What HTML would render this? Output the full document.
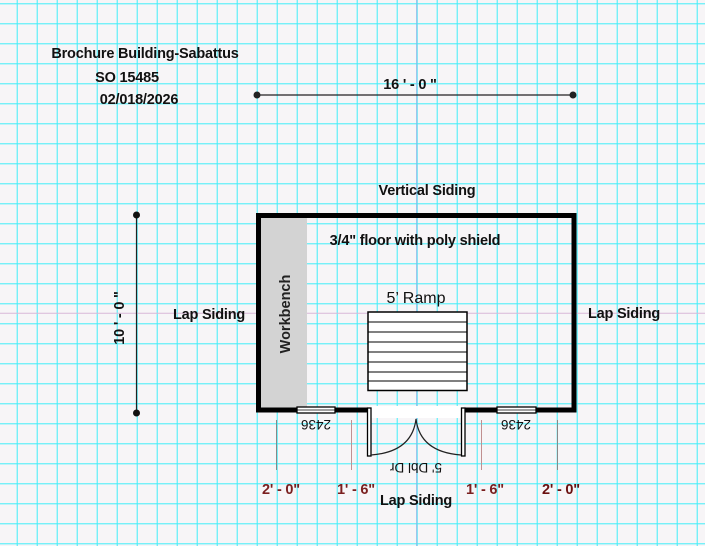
<!DOCTYPE html>
<html><head><style>
html,body{margin:0;padding:0;background:#f7f5f7;}
svg{display:block;}
text{font-family:"Liberation Sans",Arial,sans-serif;}
</style></head><body>
<svg width="705" height="546" viewBox="0 0 705 546" xmlns="http://www.w3.org/2000/svg">
<defs>
<pattern id="g" x="16.7" y="3.3" width="20" height="20" patternUnits="userSpaceOnUse">
<path d="M0.5 0V20M0 0.5H20" stroke="#40eef8" stroke-width="1" fill="none"/>
</pattern>
</defs>
<rect width="705" height="546" fill="#f7f5f7"/>
<rect width="705" height="546" fill="url(#g)"/>
<line x1="416.7" y1="0" x2="416.7" y2="546" stroke="#8ab8e8" stroke-width="1"/>
<line x1="0" y1="313.3" x2="705" y2="313.3" stroke="#d8b8d8" stroke-width="1"/>

<g font-weight="bold" font-size="14.5" fill="#111" letter-spacing="-0.2">
<text x="145" y="58" text-anchor="middle">Brochure Building-Sabattus</text>
<text x="127" y="82" text-anchor="middle">SO 15485</text>
<text x="139" y="104" text-anchor="middle">02/018/2026</text>
<text x="410" y="89" text-anchor="middle">16 ' - 0 "</text>
<text x="427" y="195" text-anchor="middle">Vertical Siding</text>
<text x="209" y="319" text-anchor="middle">Lap Siding</text>
<text x="624" y="318" text-anchor="middle">Lap Siding</text>
<text x="416" y="505" text-anchor="middle">Lap Siding</text>
<text x="415" y="245" text-anchor="middle">3/4" floor with poly shield</text>
<text transform="translate(124,318) rotate(-90)" text-anchor="middle">10 ' - 0 "</text>
</g>

<line x1="257" y1="95" x2="573" y2="95" stroke="#222" stroke-width="1.2"/>
<circle cx="257" cy="95" r="3.5" fill="#222"/><circle cx="573" cy="95" r="3.5" fill="#222"/>
<line x1="136.5" y1="215" x2="136.5" y2="413" stroke="#222" stroke-width="1.2"/>
<circle cx="136.5" cy="215" r="3.5" fill="#111"/><circle cx="136.5" cy="413" r="3.5" fill="#111"/>

<rect x="261" y="218" width="46" height="190" fill="#d3d3d3"/>
<text transform="translate(290,314) rotate(-90)" text-anchor="middle" font-size="14.5" font-weight="bold" fill="#222">Workbench</text>

<rect x="258.5" y="215.5" width="315.5" height="194.5" fill="none" stroke="#000" stroke-width="5"/>
<rect x="368" y="406" width="96" height="12" fill="#fff"/>
<rect x="297" y="407" width="38" height="6" fill="#fff" stroke="#000" stroke-width="1.3"/>
<line x1="297" y1="410" x2="335" y2="410" stroke="#000" stroke-width="0.8"/>
<rect x="497" y="407" width="39" height="6" fill="#fff" stroke="#000" stroke-width="1.3"/>
<line x1="497" y1="410" x2="536" y2="410" stroke="#000" stroke-width="0.8"/>
<rect x="367.5" y="408" width="3.5" height="48" fill="#fff" stroke="#000" stroke-width="1.3"/>
<rect x="461.5" y="408" width="3.5" height="48" fill="#fff" stroke="#000" stroke-width="1.3"/>
<path d="M371 455 Q412 452 416 419 Q420 452 461 455" fill="none" stroke="#222" stroke-width="1.2"/>

<g font-size="13.5" fill="#111" text-anchor="middle">
<text transform="translate(316,420) rotate(180)">2436</text>
<text transform="translate(516,420) rotate(180)">2436</text>
<text transform="translate(416,463) rotate(180)">5' Dbl Dr</text>
<text x="416" y="303" font-size="16">5’ Ramp</text>
</g>

<rect x="368" y="312" width="99" height="78.5" fill="#fff" stroke="#000" stroke-width="1.5"/>
<g stroke="#000" stroke-width="1">
<line x1="368" y1="322" x2="467" y2="322"/><line x1="368" y1="332" x2="467" y2="332"/>
<line x1="368" y1="342" x2="467" y2="342"/><line x1="368" y1="352" x2="467" y2="352"/>
<line x1="368" y1="362" x2="467" y2="362"/><line x1="368" y1="372" x2="467" y2="372"/>
<line x1="368" y1="381" x2="467" y2="381"/>
</g>

<line x1="276.5" y1="420" x2="276.5" y2="470" stroke="#888" stroke-width="1"/>
<line x1="557.5" y1="420" x2="557.5" y2="470" stroke="#888" stroke-width="1"/>
<line x1="351.5" y1="420" x2="351.5" y2="470" stroke="#c09090" stroke-width="1"/>
<line x1="481.5" y1="420" x2="481.5" y2="470" stroke="#c09090" stroke-width="1"/>
<g font-size="14.5" font-weight="bold" fill="#7a1f1f" text-anchor="middle" letter-spacing="-0.2">
<text x="281" y="494">2' - 0"</text>
<text x="356" y="494">1' - 6"</text>
<text x="485" y="494">1' - 6"</text>
<text x="561" y="494" fill="#6a0f0f">2' - 0"</text>
</g>
</svg>
</body></html>
